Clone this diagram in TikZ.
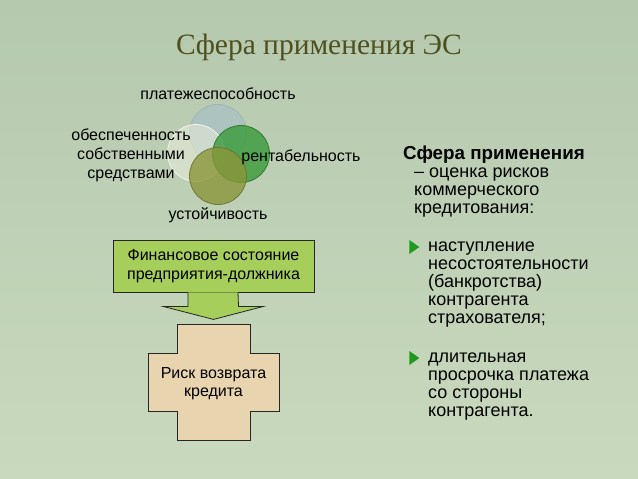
\documentclass[tikz,border=0pt]{standalone}
\usepackage{fontspec}
\setmainfont{Liberation Sans}
\newfontfamily\titlefont{Liberation Serif}
\usetikzlibrary{positioning,shapes.geometric,calc}
\definecolor{bgtop}{HTML}{B5C9AF}
\definecolor{bgbottom}{HTML}{C9D9BD}
\definecolor{titleolive}{HTML}{4F4F1F}
\definecolor{softblue}{HTML}{A9C1C4}
\definecolor{deepgreen}{HTML}{3A9A3A}
\definecolor{lightcream}{HTML}{E6EAD8}
\definecolor{deepolive}{HTML}{8A963A}
\definecolor{boxgreen}{HTML}{A6CE5A}
\definecolor{crosstan}{HTML}{E8D4AE}
\definecolor{bulletgreen}{HTML}{1E9A1E}
\tikzset{
  circ/.style={circle,minimum size=57pt,inner sep=0pt,line width=0.8pt},
  factor/.style={font=\fontsize{16}{19}\selectfont,align=center,inner sep=0pt},
  finbox/.style={draw=black!85,fill=boxgreen,minimum width=201pt,
                 minimum height=52pt,align=center,line width=0.8pt,
                 font=\fontsize{16}{19}\selectfont},
  shapeline/.style={draw=black!85,line width=0.8pt,line join=miter},
  bodytext/.style={font=\fontsize{18}{18}\selectfont,align=left,inner sep=0pt,
                   anchor=north west},
  bullet/.style={isosceles triangle,isosceles triangle apex angle=70,
                 fill=bulletgreen,inner sep=0pt,minimum height=10pt,
                 minimum width=11pt}
}
\begin{document}
\begin{tikzpicture}[x=1pt,y=-1pt]
  \shade[top color=bgtop,bottom color=bgbottom] (0,0) rectangle (638,479);
  \useasboundingbox (0,0) rectangle (638,479);

  \node[font=\titlefont\fontsize{29.5}{32}\selectfont,text=titleolive] (title)
    at (319,47) {Сфера применения ЭС};

  % circles of the financial state
  \node[circ,draw=softblue!80!gray,fill=softblue,fill opacity=0.8] (solv) at (218,133) {};
  \node[circ,draw=white!90!gray,fill=lightcream,fill opacity=0.6] (self) at (196,153) {};
  \node[circ,draw=deepgreen!80!black,fill=deepgreen,fill opacity=0.8] (prof) at (241,154) {};
  \node[circ,draw=deepolive!80!black,fill=deepolive,fill opacity=0.8] (stab) at (218,176) {};

  \node[factor,above=4pt of solv] (solvlbl) {платежеспособность};
  \node[factor] (selflbl) at (131,155) {обеспеченность\\собственными\\средствами};
  \node[factor] (proflbl) at (301,157) {рентабельность};
  \node[factor,below=3pt of stab] (stablbl) {устойчивость};

  \node[finbox] (fin) at (213.5,266) {Финансовое состояние\\предприятия-должника};

  % block arrow and cross
  \filldraw[shapeline,fill=boxgreen]
    ($(fin.south)+(-25.5,0)$) -- ++(0,14) -- ++(-25,0) -- ($(fin.south)+(0,27)$)
    -- ($(fin.south)+(50,14)$) -- ++(-25,0) -- ($(fin.south)+(24.5,0)$);

  \filldraw[shapeline,fill=crosstan]
    (177,324) -- (250,324) -- (250,353) -- (279,353) -- (279,411) -- (250,411)
    -- (250,440) -- (177,440) -- (177,411) -- (148,411) -- (148,353) -- (177,353)
    -- cycle;
  \node[font=\fontsize{16}{18}\selectfont,align=center] (risk) at (213.5,384)
    {Риск возврата\\кредита};

  % right-hand text
  \node[bodytext] (scope) at (403,146)
    {{\fontsize{18.8}{18}\selectfont\bfseries Сфера применения}\\
     \hspace*{11pt}– оценка рисков\\
     \hspace*{11pt}коммерческого\\
     \hspace*{11pt}кредитования:};
  \node[bodytext] (item1) at (428,242)
    {наступление\\несостоятельности\\(банкротства)\\контрагента\\страхователя;};
  \node[bodytext] (item2) at (428,353)
    {длительная\\просрочка платежа\\со стороны\\контрагента.};
  \node[bullet] (mark1) at (413,247) {};
  \node[bullet] (mark2) at (413,358) {};
\end{tikzpicture}
\end{document}
